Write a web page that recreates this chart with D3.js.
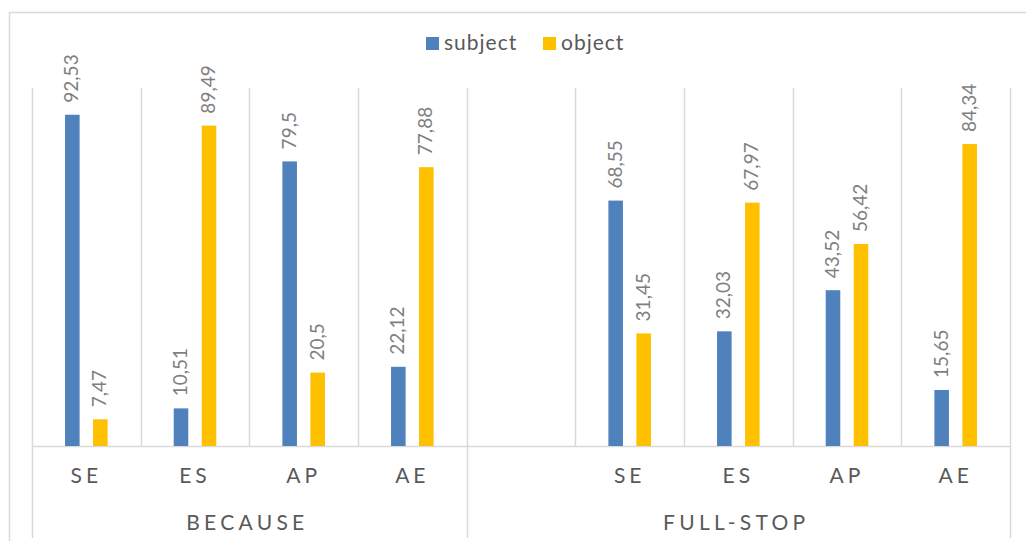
<!DOCTYPE html>
<html>
<head>
<meta charset="utf-8">
<script src="https://cdn.jsdelivr.net/npm/d3@7"></script>
<style>
  html, body { margin: 0; padding: 0; background: #fff; }
  svg { display: block; font-family: Lato, "Noto Sans", sans-serif; }
</style>
</head>
<body>
<svg id="chart" width="1026" height="541"></svg>
<script>
// ---- data ----
const seriesNames = ["subject", "object"];
const seriesColors = ["#4F81BD", "#FFC000"];
const categories = ["SE", "ES", "AP", "AE", "", "SE", "ES", "AP", "AE"];
const groupNames = ["BECAUSE", "FULL-STOP"];
const groupSizes = [4, 5];
const subjectValues = [92.53, 10.51, 79.5, 22.12, null, 68.55, 32.03, 43.52, 15.65];
const objectValues = [7.47, 89.49, 20.5, 77.88, null, 31.45, 67.97, 56.42, 84.34];
const yDomain = [0, 100];

(function () {
// ---- layout ----
const svg = d3.select("#chart");
const pLeft = 32, pRight = 1010, pTop = 88, pBottom = 446, lowBottom = 538;
const gridColor = "#d9d9d9";

const keys = categories.map((c, i) => i);
const x = d3.scaleBand().domain(keys).range([pLeft, pRight]).padding(0);
const x1 = d3.scaleBand().domain(seriesNames).range([0, x.bandwidth()])
  .paddingInner(0.48).paddingOuter(1.18);
const y = d3.scaleLinear().domain(yDomain).range([pBottom, pTop]);

// outer chart border
svg.append("rect").attr("x", 9.5).attr("y", 12.5).attr("width", 1040).attr("height", 600)
  .attr("fill", "none").attr("stroke", gridColor).attr("stroke-width", 1.5);

// vertical gridlines at category boundaries
const bounds = keys.map(k => x(k)).concat([pRight]);
svg.append("g").selectAll("line").data(bounds).join("line")
  .attr("x1", d => Math.round(d) + 0.5).attr("x2", d => Math.round(d) + 0.5)
  .attr("y1", pTop).attr("y2", pBottom)
  .attr("stroke", gridColor).attr("stroke-width", 1.5);

// group separators below axis
let acc = 0;
const groupBounds = [0];
groupSizes.forEach(s => { acc += s; groupBounds.push(acc); });
const groupX = groupBounds.map(i => i < keys.length ? x(keys[i]) : pRight);
svg.append("g").selectAll("line").data(groupX).join("line")
  .attr("x1", d => Math.round(d) + 0.5).attr("x2", d => Math.round(d) + 0.5)
  .attr("y1", pBottom).attr("y2", lowBottom)
  .attr("stroke", gridColor).attr("stroke-width", 1.5);

// x axis line
svg.append("line").attr("x1", pLeft).attr("x2", pRight)
  .attr("y1", pBottom + 0.5).attr("y2", pBottom + 0.5)
  .attr("stroke", gridColor).attr("stroke-width", 1.5);

// bars
const seriesData = [subjectValues, objectValues];
seriesData.forEach((vals, si) => {
  const g = svg.append("g");
  const data = vals.map((v, i) => ({ i, v })).filter(d => d.v != null);
  g.selectAll("rect").data(data).join("rect")
    .attr("x", d => x(d.i) + x1(seriesNames[si]))
    .attr("width", x1.bandwidth())
    .attr("y", d => y(d.v))
    .attr("height", d => y(0) - y(d.v))
    .attr("fill", seriesColors[si]);
  g.selectAll("text").data(data).join("text")
    .attr("transform", d => {
      const cx = x(d.i) + x1(seriesNames[si]) + x1.bandwidth() / 2 + 6;
      const cy = y(d.v) - 12;
      return `translate(${cx},${cy}) rotate(-90)`;
    })
    .attr("text-anchor", "start")
    .attr("font-size", 19)
    .attr("fill", "#7f7f7f")
    .text(d => String(d.v).replace(".", ","));
});

// category labels
svg.append("g").selectAll("text").data(keys).join("text")
  .attr("x", d => x(d) + x.bandwidth() / 2)
  .attr("y", 483)
  .attr("text-anchor", "middle")
  .attr("font-size", 21)
  .attr("letter-spacing", 4)
  .attr("fill", "#595959")
  .text(d => categories[d]);

// group labels
svg.append("g").selectAll("text").data(groupNames).join("text")
  .attr("x", (d, i) => (groupX[i] + groupX[i + 1]) / 2 - 2)
  .attr("y", 530)
  .attr("text-anchor", "middle")
  .attr("font-size", 21)
  .attr("letter-spacing", 4.3)
  .attr("fill", "#595959")
  .text(d => d);

// legend
const legendPos = [426, 543];
const legend = svg.append("g");
seriesNames.forEach((s, i) => {
  legend.append("rect").attr("x", legendPos[i]).attr("y", 37)
    .attr("width", 13).attr("height", 13).attr("fill", seriesColors[i]);
  legend.append("text").attr("x", legendPos[i] + 18).attr("y", 50)
    .attr("font-size", 21).attr("letter-spacing", 1).attr("fill", "#595959").text(s);
});
})();
</script>
</body>
</html>
